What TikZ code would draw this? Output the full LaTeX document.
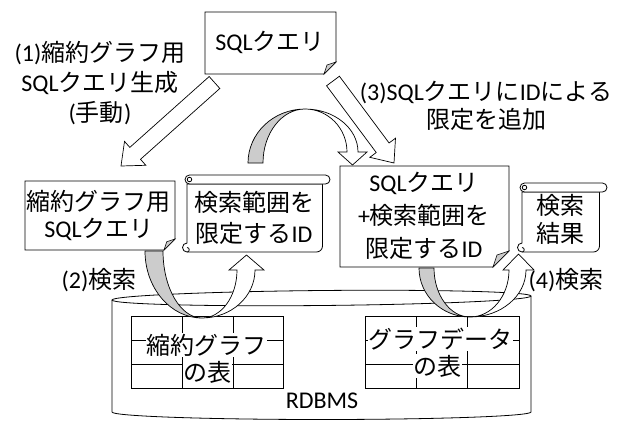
\documentclass[tikz,border=0pt]{standalone}
\usepackage{fontspec}
\setmainfont{Carlito}
\newfontfamily\jpf{Noto Sans CJK JP}
\newcommand\J[1]{{\jpf #1}}
\usetikzlibrary{calc}
% folded-corner box: L T R B fold
\newcommand\foldbox[5]{%
  \filldraw[box] (#1,#2) -- (#3,#2) -- (#3,#4-#5) -- (#3-#5,#4) -- (#1,#4) -- cycle;
  \filldraw[foldtri] (#3-#5,#4) -- (#3-0.75*#5,#4-0.75*#5) -- (#3,#4-#5) -- cycle;}
% horizontal scroll: L T R B
\newcommand\hscroll[4]{%
  \filldraw[box] (#1,#2+9) -- (#1,#4-9) arc[start angle=90,end angle=270,radius=4.5pt]
     -- (#3-13.5,#4) arc[start angle=270,end angle=360,radius=6pt] -- (#3-7.5,#2+9) -- cycle;
  \draw[box] (#1,#4-4.5) arc[start angle=90,end angle=-90,radius=2.25pt];
  \filldraw[box,rounded corners=4.5pt] (#1-2,#2) rectangle (#3,#2+9);
  \draw[box] (#1+2.5,#2+4.5) circle[radius=2.25pt];}
% straight block arrow between two named coordinates
\newcommand\blockarrow[2]{%
  \coordinate (#1h) at ($(#2)!19pt!(#1)$);
  \filldraw[blk] ($(#1)!8pt!90:(#2)$) -- ($(#1h)!8pt!90:(#2)$) -- ($(#1h)!16pt!90:(#2)$)
     -- (#2) -- ($(#1h)!16pt!-90:(#2)$) -- ($(#1h)!8pt!-90:(#2)$) -- ($(#1)!8pt!-90:(#2)$) -- cycle;}
\begin{document}
\begin{tikzpicture}[x=1pt,y=-1pt,
  txt/.style={font=\fontsize{24}{30}\selectfont, align=center, inner sep=0pt},
  box/.style={draw=black, fill=white, line width=0.8pt},
  foldtri/.style={draw=black, fill=gray!40, line width=0.6pt},
  crescent/.style={draw=black, fill=gray!40, line width=0.7pt},
  shaft/.style={draw=black, fill=white, line width=0.7pt},
  blk/.style={draw=black, fill=white, line width=0.7pt, line join=miter},
  cyl/.style={draw=black, line width=0.8pt},
  tbl/.style={draw=black, line width=0.8pt},
  cellt/.style={font=\fontsize{24}{30}\selectfont, fill=white, inner sep=0.5pt},
]
\useasboundingbox (0,0) rectangle (624,421);

% ---- RDBMS cylinder
\draw[cyl] (112,300) -- (112,412) arc[start angle=180,end angle=360,x radius=209.5pt,y radius=7.5pt] -- (531,296);
\draw[cyl] (321.5,298) ellipse[x radius=209.5pt, y radius=7.5pt, rotate=0.55];
\node[txt] (rdbms) at (322,401) {RDBMS};

% ---- tables
\draw[tbl] (131,316) rectangle (283,388);
\draw[tbl] (131,340) -- (283,340) (131,364) -- (283,364) (182,316) -- (182,388) (233,316) -- (233,388);
\node[cellt] (t1a) at (206,345) {\J{縮約グラフ}};
\node[cellt] (t1b) at (207,372) {\J{の表}};

\draw[tbl] (365,316) rectangle (519,388);
\draw[tbl] (365,340) -- (519,340) (365,364) -- (519,364) (416,316) -- (416,388) (467,316) -- (467,388);
\node[cellt] (t2a) at (440,339) {\J{グラフデータ}};
\node[cellt] (t2b) at (437,366) {\J{の表}};

% ---- U arrow (2)
\filldraw[crescent] (145,251) .. controls (145,288) and (170.5,318) .. (202,318)
   .. controls (180.5,318) and (163,288) .. (163,251) -- cycle;
\filldraw[shaft] (202,318) .. controls (231.3,318) and (255,296.5) .. (255,270) -- (264,270) -- (246.5,255)
   -- (229,270) -- (237,270) .. controls (237,296.5) and (221.3,318) .. (202,318) -- cycle;

% ---- U arrow (4)
\filldraw[crescent] (419,268) .. controls (419,295.1) and (441.8,317) .. (470,317)
   .. controls (450.1,317) and (434,295.1) .. (434,268) -- cycle;
\filldraw[shaft] (470,317) .. controls (500.9,317) and (526,296) .. (526,270) -- (534,270) -- (518.5,254)
   -- (503,270) -- (509,270) .. controls (509,296) and (491.5,317) .. (470,317) -- cycle;

% ---- boxes
\foldbox{205}{12}{336}{74}{12}
\node[txt] (q0) at (270,42) {SQL\J{クエリ}};

\foldbox{25}{181}{175}{250}{11}
\node[txt, font=\fontsize{24}{27}\selectfont] (q1) at (99,215) {\J{縮約グラフ用}\\SQL\J{クエリ}};

\foldbox{340}{166}{509}{267}{16}
\node[txt, font=\fontsize{24}{33}\selectfont] (q3) at (424,216) {SQL\J{クエリ}\\+\J{検索範囲を}\\\J{限定する}ID};

% ---- scrolls
\hscroll{187}{175}{330}{252}
\node[txt, font=\fontsize{24}{31}\selectfont] (ids) at (254,218) {\J{検索範囲を}\\\J{限定する}ID};

\hscroll{522}{183}{607}{252}
\node[txt, font=\fontsize{24}{28}\selectfont] (res) at (560,219) {\J{検索}\\\J{結果}};

% ---- curved arrow (top)
\filldraw[crescent] (248,163) .. controls (248,133.2) and (273.5,109) .. (305,109)
   .. controls (281.8,109) and (263,133.2) .. (263,163) -- cycle;
\filldraw[shaft] (305,109) .. controls (334.3,109) and (358,128.3) .. (358,152) -- (367,152) -- (352.5,165)
   -- (338,152) -- (347,152) .. controls (347,128.3) and (328.2,109) .. (305,109) -- cycle;

% ---- straight block arrows
\coordinate (a1s) at (214.5,82.5);
\coordinate (a1e) at (121,166);
\blockarrow{a1s}{a1e}
\coordinate (a3s) at (333,81);
\coordinate (a3e) at (394,163);
\blockarrow{a3s}{a3e}

% ---- labels
\node[txt] (l1) at (100,83) {(1)\J{縮約グラフ用}\\SQL\J{クエリ生成}\\(\J{手動})};
\node[txt, font=\fontsize{24}{28}\selectfont] (l3) at (486,106) {(3)SQL\J{クエリに}ID\J{による}\\\J{限定を追加}};
\node[txt] (l2) at (99,280) {(2)\J{検索}};
\node[txt] (l4) at (566,280) {(4)\J{検索}};
\end{tikzpicture}
\end{document}
